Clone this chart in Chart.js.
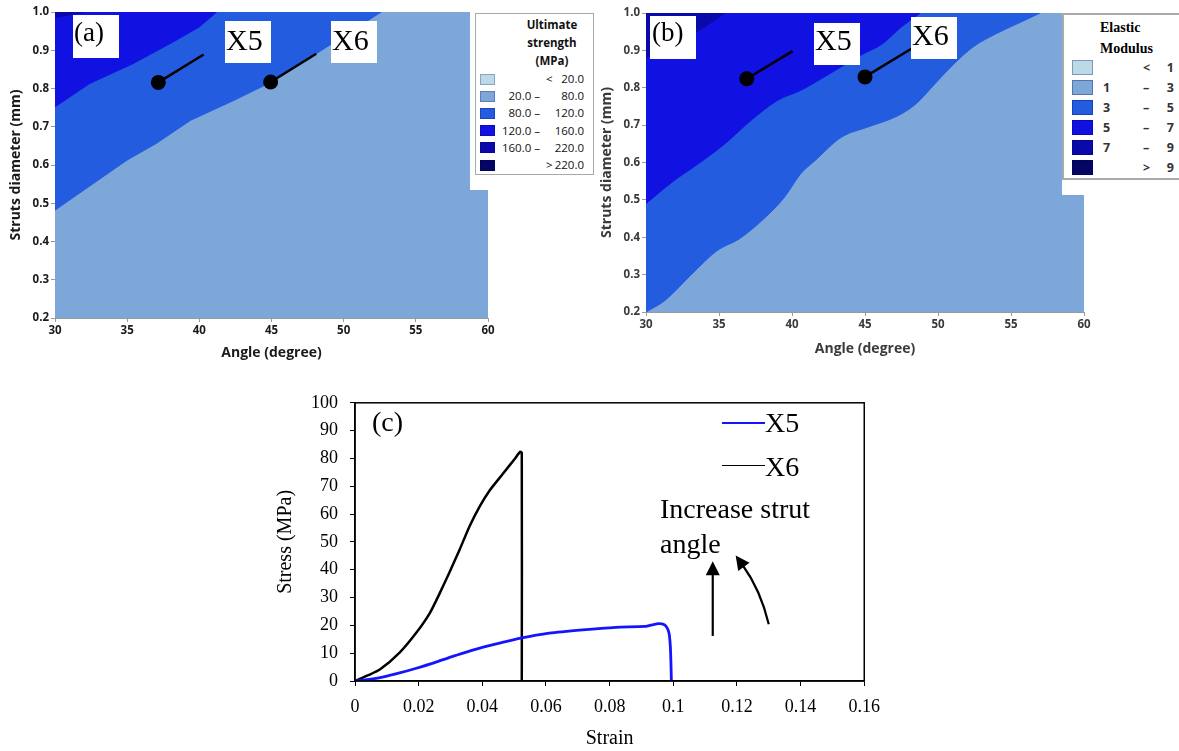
<!DOCTYPE html>
<html>
<head>
<meta charset="utf-8">
<title>Strut angle / diameter maps and stress-strain curves</title>
<script src="https://cdn.jsdelivr.net/npm/chart.js@4"></script>
<style>
  body { margin: 0; background: #fff; }
  #page { position: relative; width: 1179px; height: 751px; overflow: hidden; background: #fff; }
  #page canvas { position: absolute; }
  .abs { position: absolute; }
  .serif { font-family: "Liberation Serif", "Times New Roman", serif; line-height: 1; white-space: pre; color: #000; }
</style>
</head>
<body>
<div id="page">
  <canvas id="chartA" width="500" height="370" style="left:0px;top:0px"></canvas>
  <canvas id="chartB" width="589" height="370" style="left:590px;top:0px"></canvas>
  <canvas id="chartC" width="620" height="371" style="left:270px;top:380px"></canvas>
</div>
<script>
// colours of the contour bands, lowest band first
const bandColors = ['#BBD9E6', '#7CA7D8', '#245CE0', '#1111E2', '#0A0AAA', '#050564'];

// (a) ultimate strength: band boundaries, angle (deg) vs strut diameter (mm)
const aAngle80  = [30, 35, 37, 39.4, 42.4, 45, 48.1, 52.6];
const aDiam80   = [0.482, 0.613, 0.656, 0.717, 0.769, 0.817, 0.891, 1.0];
const aAngle120 = [30, 32.4, 35.4, 38.2, 40, 41.2];
const aDiam120  = [0.752, 0.813, 0.865, 0.922, 0.961, 1.0];
const aAngle160 = [30, 32];
const aDiam160  = [0.985, 1.0];

// (b) elastic modulus: band boundaries
const bAngle3 = [30, 31.3, 33.1, 34.9, 36.4, 38.2, 39.5, 40.6, 41.6, 43.4, 45.2, 47.3, 48.5, 49.8, 51.1, 52.4, 54.0, 55.2, 57.0];
const bDiam3  = [0.2, 0.231, 0.30, 0.365, 0.396, 0.454, 0.508, 0.570, 0.606, 0.668, 0.695, 0.726, 0.757, 0.811, 0.864, 0.909, 0.945, 0.967, 1.0];
const bAngle5 = [30, 31.8, 33.6, 35.4, 37.2, 39.0, 40.6, 42.6, 44.7, 46.2, 47.5, 48.8];
const bDiam5  = [0.49, 0.548, 0.597, 0.650, 0.713, 0.766, 0.793, 0.838, 0.887, 0.918, 0.963, 1.0];
const bAngle7 = [30, 33.5, 35.4];
const bDiam7  = [0.88, 0.95, 1.0];

// design points X5 / X6 and the end of their leader lines
const aPtAngle  = [37.16, 44.94];
const aPtDiam   = [0.816, 0.817];
const aTipAngle = [40.3, 48.1];
const aTipDiam  = [0.889, 0.891];
const bPtAngle  = [36.9, 45.0];
const bPtDiam   = [0.824, 0.829];
const bTipAngle = [40.04, 48.2];
const bTipDiam  = [0.898, 0.905];

// legend entries
const strengthLow  = ['', '20.0 \u2013', '80.0 \u2013', '120.0 \u2013', '160.0 \u2013', ''];
const strengthSign = ['<', '', '', '', '', '>'];
const strengthHigh = ['20.0', '80.0', '120.0', '160.0', '220.0', '220.0'];
const modulusLow   = ['', '1', '3', '5', '7', ''];
const modulusSign  = ['<', '\u2013', '\u2013', '\u2013', '\u2013', '>'];
const modulusHigh  = ['1', '3', '5', '7', '9', '9'];

// (c) stress-strain curves
const strainX5 = [0, 0.005, 0.009, 0.014, 0.019, 0.025, 0.030, 0.035, 0.040, 0.045, 0.052, 0.061, 0.0715, 0.082, 0.091, 0.093, 0.0955, 0.0972, 0.0981, 0.0987, 0.0991, 0.0993, 0.0994];
const stressX5 = [0, 0.7, 1.5, 2.9, 4.5, 6.6, 8.6, 10.4, 12.1, 13.5, 15.4, 17.2, 18.4, 19.3, 19.6, 20.1, 20.6, 20.2, 19.0, 17.0, 12.0, 5.0, 0];
const strainX6 = [0, 0.004, 0.0078, 0.0141, 0.0193, 0.0235, 0.0266, 0.0297, 0.0329, 0.036, 0.0391, 0.0423, 0.0464, 0.0501, 0.0519, 0.0524, 0.0524];
const stressX6 = [0, 2.0, 4.1, 10.3, 17.4, 24.4, 31.5, 39.1, 47.3, 55.6, 62.6, 68.5, 74.4, 79.7, 82.4, 82.0, 0];

// annotation arrows in (c), in data units: [x0, y0, (cx, cy,) x1, y1]
const upArrow = [0.1124, 16.2, 0.1124, 43.0];
const bentArrow = [0.130, 20.4, 0.1274, 32.8, 0.1196, 45.1];

const toPts = (xs, ys) => xs.map((x, i) => ({x: x, y: ys[i]}));

const plotBg = {
  id: 'plotBg',
  beforeDatasetsDraw(chart, args, opts) {
    const {ctx, chartArea: a} = chart;
    ctx.save();
    ctx.fillStyle = opts.color;
    ctx.fillRect(a.left, a.top, a.width, a.height);
    ctx.restore();
  }
};

function band(xs, ys, color, order, smooth) {
  return {
    data: toPts(xs, ys), fill: 'end', backgroundColor: color, borderColor: color,
    borderWidth: 1, pointRadius: 0, order: order,
    tension: smooth ? 0.4 : 0, cubicInterpolationMode: smooth ? 'monotone' : 'default'
  };
}

function marker(x0, y0, x1, y1) {
  return {
    data: [{x: x0, y: y0}, {x: x1, y: y1}], borderColor: '#000', borderWidth: 2.5,
    pointRadius: [7.5, 0], pointBackgroundColor: '#000', pointBorderWidth: 0,
    fill: false, order: 0, tension: 0
  };
}

function contourOptions(o) {
  const tickFont = {family: 'Open Sans', size: 11.5, weight: 'bold'};
  const titleFont = {family: 'Open Sans', size: 14, weight: 'bold'};
  return {
    responsive: false, animation: false,
    layout: {padding: {top: o.top, right: o.right, left: 0, bottom: 0}},
    plugins: {legend: {display: false}, tooltip: {enabled: false}, plotBg: {color: bandColors[1]}},
    scales: {
      x: {
        type: 'linear', min: 30, max: 60, z: 1,
        ticks: {stepSize: 5, font: tickFont, color: o.color, padding: 2, maxRotation: 0},
        grid: {drawOnChartArea: false, tickLength: 4, color: '#9a9a9a'},
        border: {color: '#9a9a9a'},
        title: {display: true, text: 'Angle (degree)', font: titleFont, color: o.color, padding: {top: 0, bottom: o.xTitlePad}},
        afterFit(s) { s.height = o.xHeight; }
      },
      y: {
        type: 'linear', min: 0.2, max: 1.0, z: 1,
        ticks: {stepSize: 0.1, font: tickFont, color: o.color, padding: 2, callback: v => v.toFixed(1)},
        grid: {drawOnChartArea: false, tickLength: 4, color: '#9a9a9a'},
        border: {color: '#9a9a9a'},
        title: {display: true, text: 'Struts diameter (mm)', font: titleFont, color: o.color, padding: {top: o.yTitlePad, bottom: 0}},
        afterFit(s) { s.width = o.yWidth; }
      }
    }
  };
}

new Chart(document.getElementById('chartA'), {
  type: 'line',
  data: {datasets: [
    band(aAngle80, aDiam80, bandColors[2], 10, false),
    band(aAngle120, aDiam120, bandColors[3], 9, false),
    band(aAngle160, aDiam160, bandColors[4], 8, false),
    marker(aPtAngle[0], aPtDiam[0], aTipAngle[0], aTipDiam[0]),
    marker(aPtAngle[1], aPtDiam[1], aTipAngle[1], aTipDiam[1])
  ]},
  options: contourOptions({top: 12, right: 12, xHeight: 52, yWidth: 55, xTitlePad: 9, yTitlePad: 8, color: '#1a1a1a'}),
  plugins: [plotBg]
});

new Chart(document.getElementById('chartB'), {
  type: 'line',
  data: {datasets: [
    band(bAngle3, bDiam3, bandColors[2], 10, true),
    band(bAngle5, bDiam5, bandColors[3], 9, true),
    band(bAngle7, bDiam7, bandColors[4], 8, true),
    marker(bPtAngle[0], bPtDiam[0], bTipAngle[0], bTipDiam[0]),
    marker(bPtAngle[1], bPtDiam[1], bTipAngle[1], bTipDiam[1])
  ]},
  options: contourOptions({top: 13, right: 95, xHeight: 58, yWidth: 56, xTitlePad: 13, yTitlePad: 9, color: '#3a3a3a'}),
  plugins: [plotBg]
});

// frame + arrows for (c)
const frame = {
  id: 'frame',
  afterDraw(chart) {
    const {ctx, chartArea: a} = chart;
    ctx.save();
    ctx.strokeStyle = '#000';
    ctx.lineWidth = 1.5;
    ctx.strokeRect(a.left, a.top, a.width, a.height);
    ctx.restore();
  }
};

function head(ctx, tx, ty, dx, dy) {
  const len = Math.hypot(dx, dy), ux = dx / len, uy = dy / len;
  const L = 14, W = 7;
  ctx.beginPath();
  ctx.moveTo(tx, ty);
  ctx.lineTo(tx - ux * L - uy * W, ty - uy * L + ux * W);
  ctx.lineTo(tx - ux * L + uy * W, ty - uy * L - ux * W);
  ctx.closePath();
  ctx.fill();
}

const arrows = {
  id: 'arrows',
  afterDatasetsDraw(chart) {
    const {ctx, scales: {x, y}} = chart;
    ctx.save();
    ctx.strokeStyle = '#000';
    ctx.fillStyle = '#000';
    ctx.lineWidth = 2.2;
    let x0 = x.getPixelForValue(upArrow[0]), y0 = y.getPixelForValue(upArrow[1]);
    let x1 = x.getPixelForValue(upArrow[2]), y1 = y.getPixelForValue(upArrow[3]);
    ctx.beginPath(); ctx.moveTo(x0, y0); ctx.lineTo(x1, y1 + 12); ctx.stroke();
    head(ctx, x1, y1, x1 - x0, y1 - y0);
    x0 = x.getPixelForValue(bentArrow[0]); y0 = y.getPixelForValue(bentArrow[1]);
    const cx = x.getPixelForValue(bentArrow[2]), cy = y.getPixelForValue(bentArrow[3]);
    x1 = x.getPixelForValue(bentArrow[4]); y1 = y.getPixelForValue(bentArrow[5]);
    const dx = x1 - cx, dy = y1 - cy, d = Math.hypot(dx, dy);
    ctx.beginPath(); ctx.moveTo(x0, y0);
    ctx.quadraticCurveTo(cx, cy, x1 - dx / d * 12, y1 - dy / d * 12); ctx.stroke();
    head(ctx, x1, y1, dx, dy);
    ctx.restore();
  }
};

const serifTick = {family: 'Liberation Serif', size: 18};
const serifTitle = {family: 'Liberation Serif', size: 20};
new Chart(document.getElementById('chartC'), {
  type: 'line',
  data: {datasets: [
    {label: 'X5', data: toPts(strainX5, stressX5), borderColor: '#1414ff', borderWidth: 2.8, pointRadius: 0, tension: 0.2, fill: false},
    {label: 'X6', data: toPts(strainX6, stressX6), borderColor: '#000', borderWidth: 2.5, pointRadius: 0, tension: 0.2, fill: false}
  ]},
  options: {
    responsive: false, animation: false,
    layout: {padding: {top: 17, right: 24, left: 0, bottom: 0}},
    plugins: {legend: {display: false}, tooltip: {enabled: false}},
    scales: {
      x: {
        type: 'linear', min: 0, max: 0.16,
        ticks: {stepSize: 0.02, font: serifTick, color: '#000', padding: 10, maxRotation: 0, callback: v => String(+v.toFixed(2))},
        grid: {drawOnChartArea: false, tickLength: 5, color: '#000'},
        border: {color: '#000', width: 1.5},
        title: {display: true, text: 'Strain', font: serifTitle, color: '#000', padding: {top: 0, bottom: 0}},
        afterFit(s) { s.height = 70; }
      },
      y: {
        type: 'linear', min: 0, max: 100,
        ticks: {stepSize: 10, font: serifTick, color: '#000', padding: 12},
        grid: {drawOnChartArea: false, tickLength: 5, color: '#000'},
        border: {color: '#000', width: 1.5},
        title: {display: true, text: 'Stress (MPa)', font: serifTitle, color: '#000', padding: {top: 4, bottom: 0}},
        afterFit(s) { s.width = 85; }
      }
    }
  },
  plugins: [frame, arrows]
});

// ---------- text overlays ----------
const page = document.getElementById('page');

function div(l, t, w, h, css) {
  const d = document.createElement('div');
  d.className = 'abs';
  Object.assign(d.style, {left: l + 'px', top: t + 'px', width: w + 'px', height: h + 'px'}, css || {});
  page.appendChild(d);
  return d;
}

function serif(str, left, baseline, size, css) {
  const d = document.createElement('div');
  d.className = 'abs serif';
  d.textContent = str;
  Object.assign(d.style, {left: left + 'px', top: (baseline - 0.8375 * size) + 'px', fontSize: size + 'px'}, css || {});
  page.appendChild(d);
  return d;
}

function rowText(str, cy, left, width, align, font, color) {
  const d = div(left, cy - 9, width, 18, {font: font, lineHeight: '18px', textAlign: align, whiteSpace: 'pre', color: color});
  d.textContent = str;
}

function labelBox(l, t, w, h, str, tx, baseline, size) {
  div(l, t, w, h, {background: '#fff'});
  serif(str, tx, baseline, size);
}

// panel tags and point names
labelBox(73, 15, 46, 43, '(a)', 74, 42, 27);
labelBox(225, 21, 46, 42, 'X5', 226, 50, 30);
labelBox(331, 21, 46, 42, 'X6', 332, 50, 30);
labelBox(650, 16, 46, 43, '(b)', 652, 42, 27);
labelBox(814, 23, 46, 42, 'X5', 815, 50, 30);
labelBox(911, 17, 46, 42, 'X6', 912, 45, 30);

// legend (a)
div(470, 12, 124, 178, {background: '#fff'});
div(475, 13, 119, 162, {border: '1px solid #a8a8a8', boxSizing: 'border-box'});
['Ultimate', 'strength', '(MPa)'].forEach((s, i) => rowText(s, 25 + i * 18, 510, 84, 'center', 'bold 11.5px "Open Sans"', '#111'));
bandColors.forEach((c, i) => {
  const cy = 79 + i * 17.2;
  div(480, cy - 5.5, 15, 11, {background: c, boxShadow: 'inset 0 0 0 1px rgba(0,0,80,0.25)'});
  rowText(strengthLow[i], cy, 486, 54, 'right', '11.5px "Open Sans"', '#111');
  rowText(strengthSign[i], cy, 546, 10, 'left', '11.5px "Open Sans"', '#111');
  rowText(strengthHigh[i], cy, 538, 46, 'right', '11.5px "Open Sans"', '#111');
});

// legend (b)
div(1062, 12, 117, 183, {background: '#fff'});
div(1062, 13, 140, 167, {border: '2px solid #aaa', boxSizing: 'border-box'});
serif('Elastic', 1100, 33, 14, {fontWeight: 'bold'});
serif('Modulus', 1100, 54, 14, {fontWeight: 'bold'});
bandColors.forEach((c, i) => {
  const cy = 67.5 + i * 20;
  div(1072, cy - 7.5, 21, 15, {background: c, boxShadow: 'inset 0 0 0 1px rgba(0,0,80,0.3)'});
  rowText(modulusLow[i], cy, 1103, 14, 'left', 'bold 12.5px "Noto Sans"', '#333');
  rowText(modulusSign[i], cy, 1143, 14, 'left', 'bold 12.5px "Noto Sans"', '#333');
  rowText(modulusHigh[i], cy, 1160, 14, 'right', 'bold 12.5px "Noto Sans"', '#333');
});

// (c) tag, legend and annotation
serif('(c)', 372, 431, 28);
div(722, 422, 43, 1.5, {background: '#1414ff'});
serif('X5', 765, 432, 28);
div(722, 464.5, 43, 1.5, {background: '#000'});
serif('X6', 765, 476, 28);
serif('Increase strut', 660, 518, 28);
serif('angle', 660, 553, 28);
</script>
</body>
</html>
